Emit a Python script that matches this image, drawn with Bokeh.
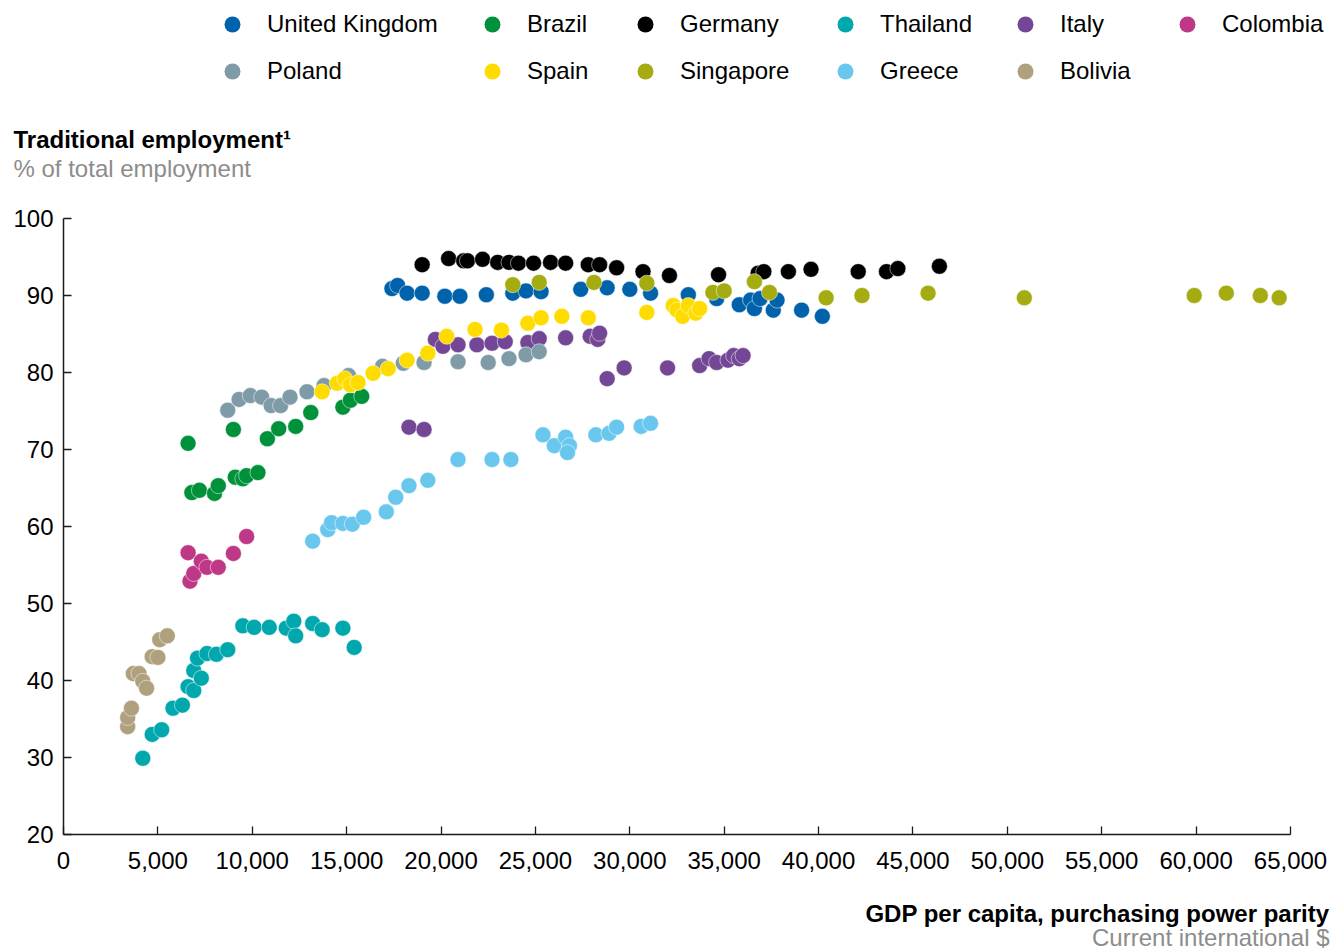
from bokeh.plotting import figure
from bokeh.models import (Range1d, FixedTicker, NumeralTickFormatter, Title, Legend,
                          LegendItem, Label)
from bokeh.layouts import column
from bokeh.embed import file_html
from bokeh.resources import INLINE

FONT = "Liberation Sans"

# ---------------- data ----------------
countries = ["United Kingdom", "Brazil", "Germany", "Thailand", "Italy", "Colombia",
             "Poland", "Spain", "Singapore", "Greece", "Bolivia"]
colors = ["#0062AB", "#00913A", "#000000", "#00A8AE", "#734795", "#BE3887",
          "#7F9BA7", "#FFDC00", "#A5AC11", "#69C7EE", "#AFA07E"]

uk_x = [17400, 17700, 18200, 19000, 20200, 21000, 22400, 23800, 24500, 25300, 27400, 28800,
        30000, 31100, 33100, 34600, 35800, 36400, 36600, 36900, 37600, 37800, 39100, 40200]
uk_y = [90.9, 91.3, 90.3, 90.3, 89.9, 89.9, 90.1, 90.3, 90.6, 90.5, 90.8, 91.0,
        90.8, 90.3, 90.1, 89.6, 88.8, 89.4, 88.3, 89.6, 88.1, 89.4, 88.1, 87.3]

brazil_x = [6600, 6800, 7200, 8000, 8200, 9000, 9100, 9500, 9700, 10300, 10800, 11400,
            12300, 13100, 14800, 15200, 15800]
brazil_y = [70.8, 64.4, 64.7, 64.3, 65.3, 72.6, 66.4, 66.2, 66.6, 67.0, 71.4, 72.7,
            73.0, 74.8, 75.5, 76.4, 76.9]

germany_x = [19000, 20400, 21200, 21400, 22200, 23000, 23600, 24100, 24900, 25800, 26600,
             27800, 28400, 29300, 30700, 32100, 34700, 36800, 37100, 38400, 39600, 42100,
             43600, 44200, 46400]
germany_y = [94.0, 94.8, 94.5, 94.5, 94.7, 94.3, 94.3, 94.2, 94.2, 94.3, 94.2,
             94.0, 94.0, 93.6, 93.1, 92.6, 92.7, 92.9, 93.1, 93.1, 93.4, 93.1,
             93.1, 93.5, 93.8]

thailand_x = [4200, 4700, 5200, 5800, 6300, 6600, 6900, 6900, 7300, 7100, 7600, 8100,
              8700, 9500, 10100, 10900, 11800, 12200, 12300, 13200, 13700, 14800, 15400]
thailand_y = [29.9, 33.0, 33.6, 36.4, 36.8, 39.2, 38.7, 41.3, 40.3, 42.9, 43.5, 43.4,
              44.0, 47.1, 46.9, 46.9, 46.8, 47.7, 45.8, 47.4, 46.6, 46.8, 44.3]

italy_x = [18300, 19100, 19700, 20100, 20900, 21900, 22700, 23400, 24600, 25200, 26600,
           27900, 28300, 28400, 28800, 29700, 32000, 33700, 34200, 34600, 35200, 35500,
           35800, 36000]
italy_y = [72.9, 72.6, 84.3, 83.4, 83.6, 83.6, 83.8, 84.0, 83.9, 84.4, 84.5,
           84.7, 84.3, 85.1, 79.2, 80.6, 80.6, 80.9, 81.8, 81.3, 81.6, 82.2,
           81.8, 82.2]

colombia_x = [6600, 6700, 6900, 7300, 7600, 8200, 9000, 9700]
colombia_y = [56.6, 52.9, 53.9, 55.5, 54.7, 54.7, 56.5, 58.7]

poland_x = [8700, 9300, 9900, 10500, 11000, 11500, 12000, 12900, 13800, 15100, 16900,
            18000, 19100, 20900, 22500, 23600, 24500, 25200]
poland_y = [75.1, 76.5, 77.0, 76.8, 75.7, 75.7, 76.8, 77.5, 78.3, 79.6, 80.8,
            81.2, 81.3, 81.4, 81.3, 81.8, 82.3, 82.7]

spain_x = [13700, 14500, 14900, 15200, 15600, 16400, 17200, 18200, 19300, 20300, 21800,
           23200, 24600, 25300, 26400, 27800, 30900, 32300, 32500, 32800, 33100, 33500, 33700]
spain_y = [77.5, 78.6, 79.2, 78.4, 78.7, 79.9, 80.5, 81.6, 82.5, 84.7, 85.6,
           85.5, 86.4, 87.1, 87.3, 87.1, 87.8, 88.7, 88.1, 87.3, 88.7, 87.7, 88.3]

singapore_x = [23800, 25200, 28100, 30900, 34400, 35000, 36600, 37400, 40400, 42300,
               45800, 50900, 59900, 61600, 63400, 64400]
singapore_y = [91.4, 91.7, 91.7, 91.6, 90.4, 90.6, 91.8, 90.4, 89.7, 90.0,
               90.3, 89.7, 90.0, 90.3, 90.0, 89.7]

greece_x = [13200, 14000, 14200, 14800, 15300, 15900, 17100, 17600, 18300, 19300, 20900,
            22700, 23700, 25400, 26000, 26600, 26800, 26700, 28200, 28900, 29300, 30600, 31100]
greece_y = [58.1, 59.6, 60.5, 60.4, 60.3, 61.2, 61.9, 63.8, 65.3, 66.0, 68.7,
            68.7, 68.7, 71.9, 70.5, 71.6, 70.5, 69.6, 71.9, 72.1, 72.9, 73.0, 73.4]

bolivia_x = [3400, 3400, 3600, 3700, 4000, 4200, 4400, 4700, 5000, 5100, 5500]
bolivia_y = [34.0, 35.2, 36.4, 40.9, 40.9, 39.9, 39.0, 43.1, 43.0, 45.3, 45.8]

series_x = [uk_x, brazil_x, germany_x, thailand_x, italy_x, colombia_x,
            poland_x, spain_x, singapore_x, greece_x, bolivia_x]
series_y = [uk_y, brazil_y, germany_y, thailand_y, italy_y, colombia_y,
            poland_y, spain_y, singapore_y, greece_y, bolivia_y]

x_ticks = list(range(0, 65001, 5000))
y_ticks = list(range(20, 101, 10))
x_bounds = (0, 65000)
y_bounds = (20, 100)

y_title = "Traditional employment\u00b9"
y_subtitle = "% of total employment"
x_title = "GDP per capita, purchasing power parity"
x_subtitle = "Current international $"

# ---------------- layout constants ----------------
W = 1340
LEFT = 63                 # frame left edge (px)
AXIS_RIGHT_PX = 1290      # where x = 65000 sits (px)
TOP_H = 182               # legend + y titles strip
TOP_FRAME_H = 123
MAIN_TOP = 218            # frame top (page px)
MAIN_BOTTOM = 834         # frame bottom (page px)
MAIN_B = 50               # bottom border of main figure
TOTAL_H = 950
BOT_H = TOTAL_H - (MAIN_BOTTOM + MAIN_B)
DOT = 16
LEG_COLS_X = [149, 409, 562, 762, 942, 1104]   # legend column starts, px from frame left
LEG_TOP = 4
GLYPH = 40
ROW_GAP = 7


def strip(height, bottom_border=0):
    f = figure(width=W, height=height, output_backend="svg", toolbar_location=None,
               title=None, x_range=Range1d(0, 1), y_range=Range1d(0, 1),
               min_border_left=LEFT, min_border_right=0, min_border_top=0,
               min_border_bottom=bottom_border, outline_line_color=None,
               x_axis_type=None, y_axis_type=None)
    f.xgrid.visible = False
    f.ygrid.visible = False
    f.background_fill_color = None
    f.border_fill_color = None
    return f


# ---------------- top strip: legend + y-axis titles ----------------
top = strip(TOP_H, bottom_border=TOP_H - TOP_FRAME_H)
# legend swatches: the same series, drawn far outside this strip's tiny ranges
leg_renderers = [top.scatter(xs, ys, size=DOT, fill_color=c, line_color=None)
                 for xs, ys, c in zip(series_x, series_y, colors)]

ncol = len(LEG_COLS_X)
for c, cx in enumerate(LEG_COLS_X):
    idx = [i for i in (c, c + ncol) if i < len(countries)]
    n = len(idx)
    h = n * GLYPH + (n - 1) * ROW_GAP
    lg = Legend(items=[LegendItem(label=countries[i], renderers=[leg_renderers[i]]) for i in idx],
                orientation="vertical", location=(cx, TOP_FRAME_H - LEG_TOP - h),
                glyph_width=GLYPH, glyph_height=GLYPH, label_standoff=15, spacing=ROW_GAP,
                padding=0, margin=0, border_line_color=None, background_fill_alpha=0,
                label_text_font=FONT, label_text_font_size="24px",
                label_text_color="#000000")
    top.add_layout(lg, "center")

top.add_layout(Title(text=y_title, align="left", offset=-50, standoff=0,
                     text_font=FONT, text_font_size="24px", text_font_style="bold",
                     text_color="#000000"), "below")
top.add_layout(Title(text=y_subtitle, align="left", offset=-50, standoff=0,
                     text_font=FONT, text_font_size="24px", text_font_style="normal",
                     text_color="#8c8c8c"), "below")

# ---------------- main scatter ----------------
x_end = x_bounds[1] * (W - LEFT) / (AXIS_RIGHT_PX - LEFT)
p = figure(width=W, height=MAIN_BOTTOM + MAIN_B - TOP_H, output_backend="svg",
           toolbar_location=None, title=None,
           x_range=Range1d(0, x_end), y_range=Range1d(*y_bounds),
           min_border_left=LEFT, min_border_right=0, min_border_top=MAIN_TOP - TOP_H,
           min_border_bottom=MAIN_B, outline_line_color=None)
p.xgrid.visible = False
p.ygrid.visible = False
p.background_fill_color = None
p.border_fill_color = None

for xs, ys, col in zip(series_x, series_y, colors):
    p.scatter(xs, ys, size=DOT, fill_color=col, line_color="white", line_width=0.5)

for ax in (p.xaxis[0], p.yaxis[0]):
    ax.axis_line_color = "#1a1a1a"
    ax.axis_line_width = 1.5
    ax.major_tick_line_color = "#1a1a1a"
    ax.major_tick_line_width = 1.3
    ax.major_tick_in = 8
    ax.major_tick_out = 0
    ax.minor_tick_line_color = None
    ax.major_label_text_font = FONT
    ax.major_label_text_font_size = "24px"
    ax.major_label_text_color = "#000000"

p.xaxis.ticker = FixedTicker(ticks=x_ticks)
p.yaxis.ticker = FixedTicker(ticks=y_ticks)
p.xaxis.bounds = x_bounds
p.yaxis.bounds = y_bounds
p.xaxis.formatter = NumeralTickFormatter(format="0,0")
p.xaxis.major_label_standoff = 17
p.yaxis.major_label_standoff = 10

# ---------------- bottom strip: x-axis titles ----------------
bot = strip(BOT_H)
bot.add_layout(Label(x=1329 - LEFT, y=TOTAL_H - 913, x_units="screen", y_units="screen",
                     text=x_title, text_font=FONT, text_font_size="24px",
                     text_font_style="bold", text_color="#000000",
                     text_align="right", text_baseline="middle"))
bot.add_layout(Label(x=1329 - LEFT, y=TOTAL_H - 937, x_units="screen", y_units="screen",
                     text=x_subtitle, text_font=FONT, text_font_size="24px",
                     text_font_style="normal", text_color="#8c8c8c",
                     text_align="right", text_baseline="middle"))

layout = column(top, p, bot)
open("out.html", "w").write(file_html(layout, INLINE))
